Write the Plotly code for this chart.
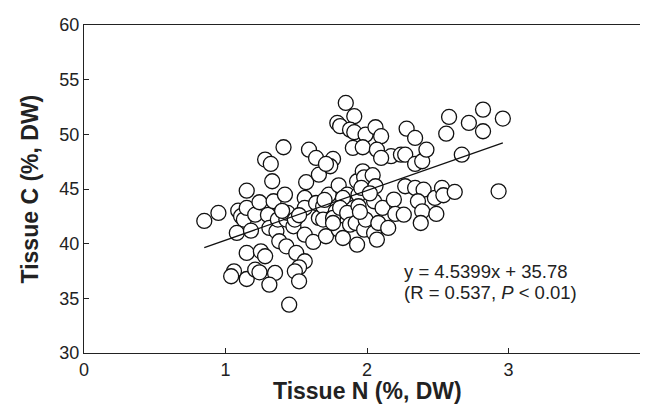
import plotly.graph_objects as go

# Tissue N (%, DW) and Tissue C (%, DW)
tissue_n = [0.85, 0.95, 1.09, 1.11, 1.15, 1.13, 1.08, 1.06, 1.04, 1.15, 1.15, 1.15,
            1.18, 1.21, 1.24, 1.25, 1.28, 1.21, 1.24, 1.28, 1.32, 1.33, 1.30, 1.31,
            1.35, 1.31, 1.34, 1.36, 1.41, 1.42, 1.38, 1.43, 1.37, 1.43, 1.44, 1.45,
            1.48, 1.49, 1.50, 1.56, 1.52, 1.49, 1.52, 1.56, 1.62, 1.56, 1.56, 1.57,
            1.59, 1.64, 1.66, 1.64, 1.69, 1.66, 1.69, 1.71, 1.73, 1.76, 1.74, 1.71,
            1.79, 1.81, 1.85, 1.91, 1.88, 1.91, 1.99, 2.06, 2.10, 1.90, 1.97, 2.07,
            2.17, 2.24, 2.10, 1.80, 1.78, 1.80, 1.83, 1.76, 1.76, 1.86, 1.83, 1.81,
            1.86, 1.88, 1.93, 1.93, 1.97, 1.97, 1.98, 1.94, 1.94, 1.92, 1.98, 1.99,
            1.96, 2.04, 2.06, 2.05, 2.05, 2.07, 2.08, 2.11, 2.15, 2.19, 2.20, 2.26,
            2.27, 2.27, 2.28, 2.34, 2.34, 2.39, 2.42, 2.34, 2.40, 2.36, 2.39, 2.38,
            2.49, 2.48, 2.53, 2.54, 2.62, 2.58, 2.56, 2.72, 2.82, 2.82, 2.96, 2.67,
            2.93, 1.40, 1.52, 1.95, 2.02, 1.70]
tissue_c = [42.08, 42.81, 43.02, 42.51, 44.85, 42.20, 40.98, 37.47, 37.02, 39.15, 36.77, 43.27,
            41.19, 37.62, 37.38, 39.30, 38.85, 42.65, 43.79, 47.69, 47.29, 45.71, 42.63, 41.44,
            37.32, 36.25, 43.88, 41.13, 48.82, 44.48, 40.22, 39.76, 42.20, 42.20, 42.81, 34.42,
            41.59, 42.20, 39.15, 38.39, 37.84, 37.47, 36.56, 40.82, 40.16, 44.18, 43.27, 45.62,
            48.60, 47.84, 42.35, 43.72, 43.42, 46.31, 42.20, 40.68, 44.48, 47.75, 47.08, 47.29,
            51.04, 50.75, 52.87, 51.66, 50.43, 50.20, 49.97, 50.65, 49.83, 48.76, 48.82, 48.60,
            48.00, 48.14, 47.84, 45.34, 42.96, 41.28, 40.52, 42.35, 41.89, 44.48, 44.18, 43.27,
            42.81, 41.74, 39.91, 45.71, 46.62, 45.25, 46.07, 44.48, 43.42, 41.89, 41.28, 42.20,
            45.10, 46.26, 45.25, 43.88, 40.98, 40.37, 41.89, 43.27, 41.44, 44.03, 42.72, 42.65,
            45.25, 48.14, 50.52, 49.67, 47.29, 47.54, 48.60, 45.10, 44.94, 43.88, 42.96, 41.89,
            42.72, 44.18, 45.10, 44.43, 44.73, 51.59, 50.06, 51.04, 52.26, 50.28, 51.44, 48.14,
            44.79, 43.00, 42.60, 42.90, 44.60, 44.00]

slope = 4.5399
intercept = 35.78
x_ticks = [0, 1, 2, 3, 4]
y_ticks = [30, 35, 40, 45, 50, 55, 60]
x_title = "<b>Tissue N (%, DW)</b>"
y_title = "<b>Tissue C (%, DW)</b>"
eq_text = "y = 4.5399x + 35.78"
stat_text = "(R = 0.537, <i>P</i> &lt; 0.01)"

x_fit = [min(tissue_n), max(tissue_n)]
y_fit = [slope * v + intercept for v in x_fit]

FONT = "Liberation Sans, Arial, sans-serif"
INK = "#222"

fig = go.Figure()
fig.add_trace(go.Scatter(
    x=tissue_n, y=tissue_c, mode="markers",
    marker=dict(size=15, color="white", line=dict(color="#111", width=1.3)),
    showlegend=False, hoverinfo="skip"))
fig.add_trace(go.Scatter(
    x=x_fit, y=y_fit, mode="lines",
    line=dict(color="#111", width=1.3), showlegend=False, hoverinfo="skip"))

fig.add_annotation(x=2.25, y=37.5, xref="x", yref="y", text=eq_text,
                   showarrow=False, xanchor="left", yanchor="middle",
                   font=dict(family=FONT, size=18.5, color=INK))
fig.add_annotation(x=2.25, y=35.5, xref="x", yref="y", text=stat_text,
                   showarrow=False, xanchor="left", yanchor="middle",
                   font=dict(family=FONT, size=18.5, color=INK))

# axis titles
fig.add_annotation(x=-0.0946, y=0.5, xref="paper", yref="paper", text=y_title,
                   textangle=-90, showarrow=False, xanchor="center", yanchor="middle",
                   font=dict(family=FONT, size=23, color=INK))
fig.add_annotation(x=0.5, y=-0.117, xref="paper", yref="paper", text=x_title,
                   showarrow=False, xanchor="center", yanchor="middle",
                   font=dict(family=FONT, size=23, color=INK))

axis_common = dict(showgrid=False, zeroline=False, showline=True, linecolor=INK,
                   linewidth=1.2, mirror=True, ticks="inside", ticklen=5,
                   tickcolor=INK, tickwidth=1.2, ticklabeloverflow="allow",
                   tickfont=dict(family=FONT, size=18, color=INK))

fig.update_xaxes(range=[0, 4], tickvals=x_ticks, **axis_common)
fig.update_yaxes(range=[30, 60], tickvals=y_ticks, **axis_common)

fig.update_layout(width=648, height=404, plot_bgcolor="white", paper_bgcolor="white",
                  margin=dict(l=76, r=1, t=17, b=59))

fig.write_html("out.html")
